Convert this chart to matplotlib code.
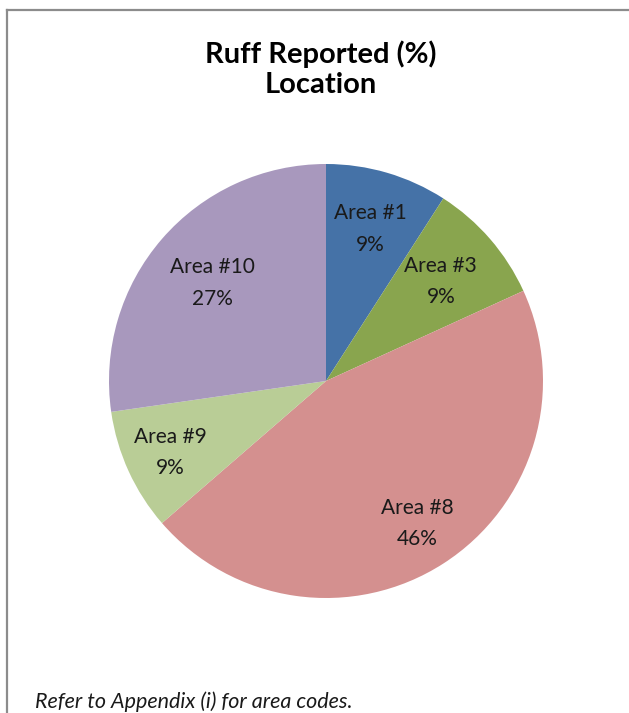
import numpy as np
import matplotlib
matplotlib.use("Agg")
import matplotlib.pyplot as plt
from matplotlib.lines import Line2D

plt.rcParams['font.family'] = ['Lato', 'DejaVu Sans']

# ruff sightings per area (counts), labels as shown on chart
areas = ["Area #1", "Area #3", "Area #8", "Area #9", "Area #10"]
counts = [1, 1, 5, 1, 3]
pct_labels = ["9%", "9%", "46%", "9%", "27%"]
colors = ["#4572A7", "#89A54E", "#D4908F", "#B9CD96", "#A898BD"]

# how far out each label sits (fraction of radius), Excel-ish placement
label_r = [0.73, 0.70, 0.78, 0.79, 0.69]

fig = plt.figure(figsize=(6.29, 7.13), dpi=100)

# chart frame (only top and left edges visible in the crop)
fig.add_artist(Line2D([7/629, 1], [1 - 10/713, 1 - 10/713], color="#8c8c8c", lw=1.6))
fig.add_artist(Line2D([7/629, 7/629], [0, 1 - 10/713], color="#8c8c8c", lw=1.6))

ax = fig.add_axes([109/629, 115/713, 434/629, 434/713])
labels = [f"{a}\n{p}" for a, p in zip(areas, pct_labels)]
wedges, texts = ax.pie(counts, colors=colors, startangle=90, counterclock=False,
                       labels=labels, labeldistance=0.73,
                       wedgeprops=dict(linewidth=0),
                       textprops=dict(fontsize=15, color="#1a1a1a", linespacing=1.7))
for w, t, r in zip(wedges, texts, label_r):
    mid = np.deg2rad((w.theta1 + w.theta2) / 2)
    t.set_position((r * np.cos(mid), r * np.sin(mid)))
    t.set_horizontalalignment("center")
    t.set_verticalalignment("center")
ax.set_xlim(-1, 1)
ax.set_ylim(-1, 1)
ax.set_aspect("equal")

fig.text(321/629, 1 - 69/713, "Ruff Reported (%)\nLocation", ha="center", va="center",
         fontsize=21, fontweight="bold", linespacing=1.2)
fig.text(35/629, 1 - 702/713, "Refer to Appendix (i) for area codes.", ha="left", va="center",
         fontsize=15.5, style="italic", color="#1a1a1a")

fig.savefig("out.png", dpi=100)
